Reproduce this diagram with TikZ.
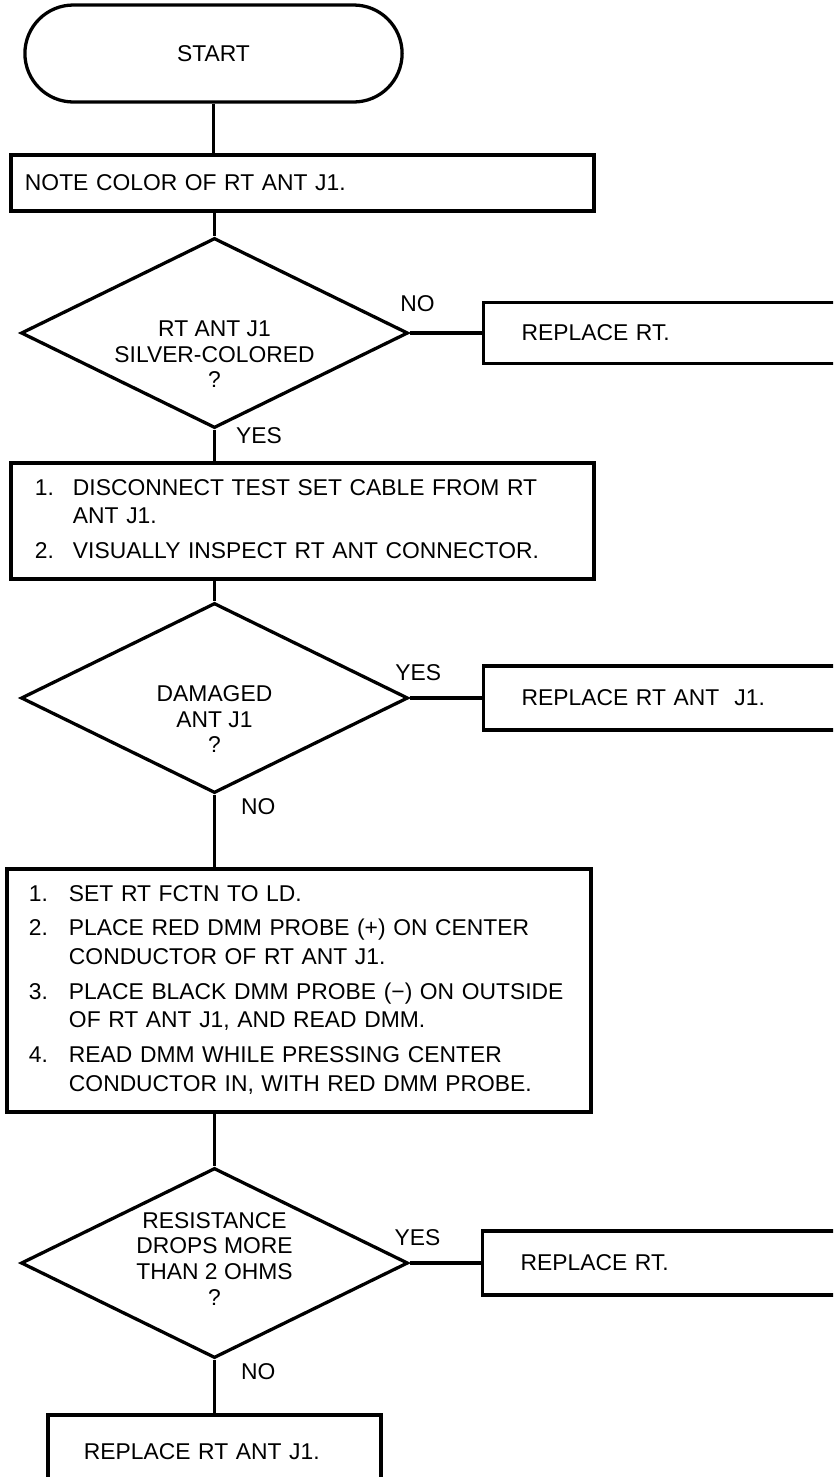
\documentclass[tikz,border=0pt]{standalone}
\usepackage{fontspec}
\setmainfont{Liberation Sans}
\usetikzlibrary{shapes.geometric,shapes.misc,positioning}
\newcommand{\question}[2][0pt]{\raisebox{#1}[0pt][0pt]{\begin{tabular}{@{}c@{}}#2\end{tabular}}}

\begin{document}
\begin{tikzpicture}[x=0.03cm,y=-0.03cm,line width=2.8pt,
    every node/.style={font=\fontsize{19.5}{22}\selectfont},
    terminal/.style={draw,rounded rectangle,minimum width=11.55cm,minimum height=2.91cm},
    box/.style={draw,rectangle,align=left,inner ysep=0pt},
    decision/.style={draw,diamond,shape aspect=2,inner sep=0pt,minimum width=11.61cm,minimum height=5.7cm},
    steps/.style={font=\fontsize{19.5}{24.5}\selectfont},
    lbl/.style={inner sep=0pt}]
    \useasboundingbox (0,0) rectangle (833,1477);
    \clip (0,0) rectangle (833,1477);
    % boxes
    \node[terminal] (start) at (213.5,53.5) {START};
    \node[box,text width=16.65cm,inner xsep=0.42cm,minimum height=1.68cm] (note) at (302.5,183)
      {NOTE COLOR OF RT ANT J1.};
    \node[decision] (silver) at (214.5,333) {\question[-0.9cm]{RT ANT J1\\SILVER-COLORED\\?}};
    \node[box,anchor=west,text width=11.22cm,inner xsep=1.14cm,minimum height=1.83cm] (replrt) at (482,333)
      {REPLACE RT.};
    \node[box,steps,text width=16.05cm,inner xsep=0.72cm,minimum height=3.48cm] (inspect) at (302.5,521)
      {\begin{tabular}{@{}p{1.14cm}@{}l@{}}
        1. & DISCONNECT TEST SET CABLE FROM RT\\
           & ANT J1.\\[5pt]
        2. & VISUALLY INSPECT RT ANT CONNECTOR.
      \end{tabular}};
    \node[decision] (damaged) at (214.5,698) {\question[-0.9cm]{DAMAGED\\ANT J1\\?}};
    \node[box,anchor=west,text width=11.22cm,inner xsep=1.14cm,minimum height=1.92cm] (replant) at (482,698)
      {REPLACE RT ANT\ \ J1.};
    \node[box,steps,text width=16.2cm,inner xsep=0.66cm,minimum height=7.29cm] (probe) at (299,990.5)
      {\begin{tabular}{@{}p{1.2cm}@{}l@{}}
        1. & SET RT FCTN TO LD.\\[5pt]
        2. & PLACE RED DMM PROBE (+) ON CENTER\\
           & CONDUCTOR OF RT ANT J1.\\[5pt]
        3. & PLACE BLACK DMM PROBE (−) ON OUTSIDE\\
           & OF RT ANT J1, AND READ DMM.\\[5pt]
        4. & READ DMM WHILE PRESSING CENTER\\
           & CONDUCTOR IN, WITH RED DMM PROBE.
      \end{tabular}};
    \node[decision] (drops) at (214.5,1263) {\question[-0.14cm]{RESISTANCE\\DROPS MORE\\THAN 2 OHMS\\?}};
    \node[box,anchor=west,text width=11.22cm,inner xsep=1.14cm,minimum height=1.92cm] (replrt2) at (481,1263)
      {REPLACE RT.};
    \node[box,text width=7.83cm,inner xsep=1.08cm,minimum height=2.22cm] (replj1) at (214.5,1452)
      {REPLACE RT ANT J1.};
    % connectors
    \draw (start.south) -- (start.south |- note.north);
    \draw (silver.north |- note.south) -- (silver.north);
    \draw (silver.east) -- node[lbl,pos=0.11,above=0.6cm] {NO} (replrt.west);
    \draw (silver.south) -- node[lbl,pos=0.2,right=0.6cm] {YES} (silver.south |- inspect.north);
    \draw (damaged.north |- inspect.south) -- (damaged.north);
    \draw (damaged.east) -- node[lbl,pos=0.12,above=0.48cm] {YES} (replant.west);
    \draw (damaged.south) -- node[lbl,pos=0.16,right=0.75cm] {NO} (damaged.south |- probe.north);
    \draw (drops.north |- probe.south) -- (drops.north);
    \draw (drops.east) -- node[lbl,pos=0.11,above=0.48cm] {YES} (replrt2.west);
    \draw (drops.south) -- node[lbl,pos=0.22,right=0.75cm] {NO} (replj1.north);
\end{tikzpicture}
\end{document}
